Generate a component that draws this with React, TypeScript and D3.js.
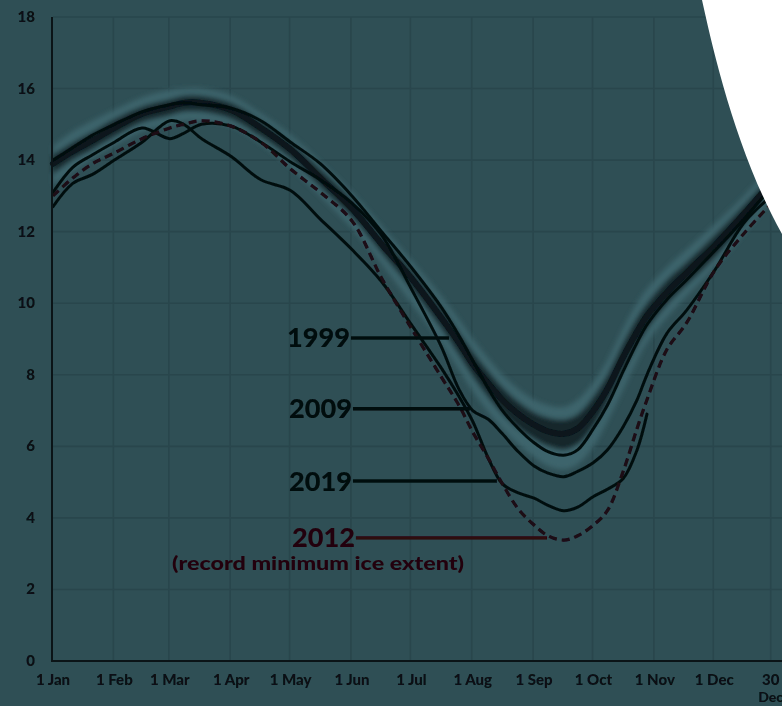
import React from "react";
import * as d3 from "d3";

// Day-of-year sampling grid
const days = [0, 10, 20, 31, 45, 59, 66, 75, 90, 105, 120, 135, 151, 166, 181, 196, 205, 212, 220, 227, 235, 243, 250, 258, 265, 273, 280, 288, 295, 300, 310, 320, 334, 349, 363];

// 1981-2010 median and ranges (million sq km)
const median = [13.9, 14.25, 14.55, 14.9, 15.3, 15.5, 15.6, 15.6, 15.4, 14.9, 14.3, 13.5, 12.65, 11.65, 10.7, 9.6, 8.9, 8.3, 7.75, 7.3, 6.9, 6.6, 6.42, 6.35, 6.5, 7.0, 7.6, 8.5, 9.2, 9.65, 10.3, 10.85, 11.6, 12.5, 13.4];
const rangeHigh = [14.4, 14.8, 15.1, 15.4, 15.75, 15.95, 16.0, 16.0, 15.8, 15.3, 14.7, 13.95, 13.1, 12.15, 11.2, 10.2, 9.55, 9.0, 8.45, 8.0, 7.6, 7.3, 7.15, 7.1, 7.3, 7.8, 8.4, 9.3, 10.0, 10.4, 11.0, 11.5, 12.2, 13.0, 13.85];
const rangeLow = [13.3, 13.7, 14.05, 14.4, 14.8, 15.0, 15.1, 15.1, 14.95, 14.45, 13.8, 13.0, 12.1, 11.1, 10.0, 8.9, 8.15, 7.55, 6.95, 6.5, 6.05, 5.7, 5.45, 5.35, 5.5, 6.0, 6.7, 7.6, 8.4, 8.9, 9.6, 10.2, 11.0, 11.95, 12.9];
const iqrHigh = [14.15, 14.5, 14.8, 15.15, 15.5, 15.7, 15.8, 15.8, 15.6, 15.1, 14.5, 13.75, 12.9, 11.9, 10.95, 9.9, 9.2, 8.65, 8.1, 7.65, 7.25, 6.95, 6.8, 6.75, 6.9, 7.4, 8.0, 8.9, 9.6, 10.0, 10.65, 11.15, 11.9, 12.75, 13.6];
const iqrLow = [13.6, 14.0, 14.3, 14.65, 15.05, 15.25, 15.35, 15.35, 15.15, 14.65, 14.05, 13.25, 12.4, 11.4, 10.4, 9.3, 8.55, 7.95, 7.35, 6.9, 6.5, 6.2, 6.0, 5.9, 6.05, 6.55, 7.2, 8.1, 8.8, 9.25, 9.95, 10.5, 11.25, 12.2, 13.15];

// Individual years
const y1999 = [14.0, 14.35, 14.7, 15.0, 15.35, 15.55, 15.6, 15.55, 15.45, 15.1, 14.5, 13.9, 13.0, 12.0, 11.0, 9.9, 9.1, 8.4, 7.6, 7.0, 6.5, 6.1, 5.85, 5.75, 5.9, 6.5, 7.15, 8.1, 8.9, 9.4, 10.1, 10.65, 11.45, 12.35, 13.25];
const y2009 = [13.1, 13.8, 14.15, 14.5, 14.9, 14.6, 14.75, 15.0, 14.95, 14.5, 13.95, 13.45, 12.8, 11.9, 10.4, 8.8, 7.6, 7.0, 6.75, 6.35, 5.85, 5.45, 5.25, 5.15, 5.3, 5.55, 5.9, 6.55, 7.3, 8.0, 9.15, 9.8, 10.9, 12.25, 13.0];
const y2012 = [13.0, 13.5, 13.9, 14.2, 14.6, 14.9, 15.0, 15.1, 14.95, 14.5, 13.75, 13.1, 12.3, 10.7, 9.3, 7.95, 7.15, 6.4, 5.65, 4.95, 4.25, 3.8, 3.5, 3.38, 3.5, 3.8, 4.2, 5.3, 6.5, 7.3, 8.7, 9.45, 10.9, 11.95, 12.8];
const y2019: (number | null)[] = [12.7, 13.35, 13.6, 14.0, 14.5, 15.1, 15.0, 14.6, 14.1, 13.45, 13.15, 12.35, 11.5, 10.6, 9.4, 8.2, 7.4, 6.7, 5.65, 4.95, 4.7, 4.55, 4.35, 4.2, 4.3, 4.6, 4.8, 5.1, 5.9, 6.9, null, null, null, null, null];

// Axis ticks
const tickDays = [0, 31, 59, 90, 120, 151, 181, 212, 243, 273, 304, 334, 363];
const tickLabels = ["1 Jan", "1 Feb", "1 Mar", "1 Apr", "1 May", "1 Jun", "1 Jul", "1 Aug", "1 Sep", "1 Oct", "1 Nov", "1 Dec", "30 Dec"];
const yTicks = [0, 2, 4, 6, 8, 10, 12, 14, 16, 18];

// Annotations
const labelNames = ["1999", "2009", "2019", "2012"];
const labelValues = [9.03, 7.05, 5.03, 3.44];
const pointerStartDays = [150.5, 151.5, 151.5, 153];
const pointerEndDays = [200, 210.6, 224.2, 249.5];
const subtitle = "(record minimum ice extent)";

const W = 782;
const H = 706;
const FONT = "Lato, 'Open Sans', sans-serif";

export default function App() {
  const x = d3.scaleLinear().domain([0, 363]).range([53, 771.7]);
  const y = d3.scaleLinear().domain([0, 18]).range([661, 17]);

  const lineGen = d3
    .line<number | null>()
    .defined((v) => v != null)
    .x((_, i) => x(days[i]))
    .y((v) => y(v as number))
    .curve(d3.curveCatmullRom.alpha(0.5));

  const areaGen = (lo: number[], hi: number[]) =>
    d3
      .area<number>()
      .x((_, i) => x(days[i]))
      .y0((_, i) => y(lo[i]))
      .y1((_, i) => y(hi[i]))
      .curve(d3.curveCatmullRom.alpha(0.5))(days) as string;

  const lineColor = "#060d0f";
  const maroon = "#22050a";

  return (
    <div style={{ position: "absolute", left: 0, top: 0, width: W, height: H, overflow: "hidden" }}>
      <svg width={W} height={H} style={{ display: "block" }}>
        <defs>
          <filter id="blurBand" x="-10%" y="-10%" width="120%" height="120%">
            <feGaussianBlur stdDeviation="2.5" />
          </filter>
          <filter id="blurSoft" x="-10%" y="-10%" width="120%" height="120%">
            <feGaussianBlur stdDeviation="0.5" />
          </filter>
        </defs>
        <rect x={0} y={0} width={W} height={H} fill="#2f4f55" />

        {/* grid */}
        <g stroke="#29464c" strokeWidth={1.6}>
          {tickDays.map((d, i) => (
            <line key={"v" + i} x1={x(d) - 1} x2={x(d) - 1} y1={y(18)} y2={y(0)} />
          ))}
          {yTicks.map((v, i) => (
            <line key={"h" + i} x1={x(0)} x2={W} y1={y(v)} y2={y(v)} />
          ))}
        </g>

        {/* ranges */}
        <g filter="url(#blurBand)">
          <path d={areaGen(rangeLow, rangeHigh)} fill="#3e6770" opacity={0.85} />
          <path d={areaGen(iqrLow, iqrHigh)} fill="#112227" opacity={0.92} />
        </g>

        {/* lines */}
        <g filter="url(#blurSoft)" fill="none" strokeLinejoin="round" strokeLinecap="round">
          <path d={lineGen(median) as string} stroke="#08141a" strokeWidth={6} />
          <path d={lineGen(y1999) as string} stroke={lineColor} strokeWidth={3} />
          <path d={lineGen(y2009) as string} stroke={lineColor} strokeWidth={3} />
          <path d={lineGen(y2019) as string} stroke={lineColor} strokeWidth={3} />
          <path d={lineGen(y2012) as string} stroke="#1c0812" strokeWidth={3.2} strokeDasharray="8 5" strokeLinecap="butt" />
        </g>

        {/* axes */}
        <line x1={x(0) - 1} x2={x(0) - 1} y1={y(18)} y2={y(0)} stroke="#0b1417" strokeWidth={2} />
        <line x1={x(0) - 2} x2={W} y1={y(0)} y2={y(0)} stroke="#0b1417" strokeWidth={2} />

        <g fontFamily={FONT} fontWeight={900} fontSize={15} fill="#081012" filter="url(#blurSoft)">
          {yTicks.map((v, i) => (
            <text key={"yt" + i} x={35} y={y(v) + 5} textAnchor="end">
              {v}
            </text>
          ))}
          {tickLabels.map((t, i) => {
            const parts = t === "30 Dec" ? ["30", "Dec"] : [t];
            return parts.map((p, j) => (
              <text
                key={"xt" + i + "_" + j}
                x={x(tickDays[i]) - (parts.length > 1 ? 1 : 0)}
                y={685 + j * 17}
                textAnchor="middle"
                fontSize={parts.length > 1 && j === 1 ? 14 : 15}
              >
                {p}
              </text>
            ));
          })}
        </g>

        {/* annotations */}
        <g filter="url(#blurSoft)">
          {labelNames.map((name, i) => {
            const col = name === "2012" ? maroon : "#040a0b";
            return (
              <g key={name}>
                <line
                  x1={x(pointerStartDays[i])}
                  x2={x(pointerEndDays[i])}
                  y1={y(labelValues[i])}
                  y2={y(labelValues[i])}
                  stroke={name === "2012" ? "#2e070c" : "#040a0b"}
                  strokeWidth={3.4}
                />
                <text
                  x={x(pointerStartDays[i]) - 1}
                  y={y(labelValues[i]) + 9.5}
                  textAnchor="end"
                  fontFamily={FONT}
                  fontWeight={900}
                  fontSize={26}
                  fill={col}
                  textLength={63}
                  lengthAdjust="spacingAndGlyphs"
                >
                  {name}
                </text>
              </g>
            );
          })}
          <text
            x={318}
            y={y(labelValues[3]) + 32}
            textAnchor="middle"
            fontFamily={FONT}
            fontWeight={900}
            fontSize={18.5}
            fill={maroon}
            textLength={292}
            lengthAdjust="spacingAndGlyphs"
          >
            {subtitle}
          </text>
        </g>

        {/* white shape top-right */}
        <path d="M702,0 C712,45 735,150 782,234 L782,0 Z" fill="#ffffff" />
      </svg>
    </div>
  );
}
